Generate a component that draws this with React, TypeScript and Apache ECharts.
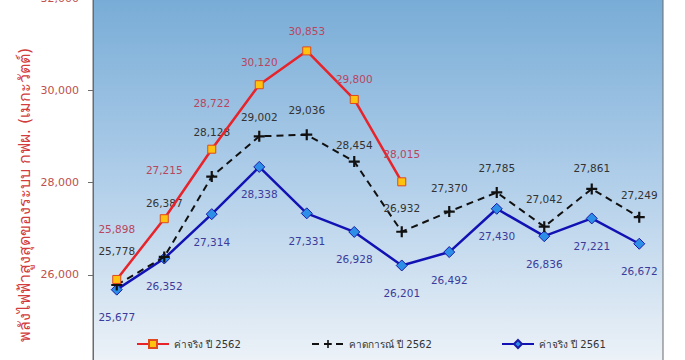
import React, { useEffect, useRef } from "react";
import * as echarts from "echarts";

const months = ["ม.ค.", "ก.พ.", "มี.ค.", "เม.ย.", "พ.ค.", "มิ.ย.", "ก.ค.", "ส.ค.", "ก.ย.", "ต.ค.", "พ.ย.", "ธ.ค."];
const actual2562 = [25898, 27215, 28722, 30120, 30853, 29800, 28015];
const forecast2562 = [25778, 26387, 28128, 29002, 29036, 28454, 26932, 27370, 27785, 27042, 27861, 27249];
const actual2561 = [25677, 26352, 27314, 28338, 27331, 26928, 26201, 26492, 27430, 26836, 27221, 26672];
const seriesNames = ["ค่าจริง ปี 2562", "คาดการณ์ ปี 2562", "ค่าจริง ปี 2561"];
const yTitle = "พลังไฟฟ้าสูงสุดของระบบ กฟผ. (เมกะวัตต์)";

// extra upward label lift (px) for readability, as placed in the original
const redLift = [35, 34, 31, 8, 5, 5, 13];
const blackLift = [18, 38, 29, 3, 9, 1, 8, 8, 8, 12, 5, 6];

const FONT = "'DejaVu Sans', 'Noto Sans', sans-serif";
const fmt = (v: number) => v.toLocaleString("en-US");
const legendLefts = [131, 306, 496];

export default function App() {
  const ref = useRef<HTMLDivElement>(null);
  useEffect(() => {
    if (!ref.current) return;
    const chart = echarts.init(ref.current, null, { renderer: "svg" });
    chart.setOption({
      animation: false,
      backgroundColor: "#ffffff",
      textStyle: { fontFamily: FONT },
      grid: {
        left: 93,
        top: 8,
        width: 570,
        height: 369,
        containLabel: false,
        outerBoundsMode: "none",
        show: true,
        borderColor: "#6b6b6b",
        borderWidth: 1,
        backgroundColor: new echarts.graphic.LinearGradient(0, 0, 0, 1, [
          { offset: 0, color: "#78acd6" },
          { offset: 0.45, color: "#abcbe8" },
          { offset: 1, color: "#eef3f8" },
        ]),
      },
      graphic: [
        {
          type: "text",
          x: 24,
          y: 205,
          rotation: Math.PI / 2,
          style: {
            text: yTitle,
            fill: "#d23c3c",
            fontSize: 16,
            fontFamily: FONT,
            align: "center",
            verticalAlign: "middle",
          },
        },
      ],
      legend: seriesNames.map((n, i) => ({
        left: legendLefts[i],
        top: 344,
        itemWidth: 32,
        itemHeight: 10,
        textStyle: { color: "#333", fontSize: 10, fontFamily: FONT },
        data: [n],
      })),
      xAxis: {
        type: "category",
        data: months,
        boundaryGap: true,
        axisLine: { show: true, lineStyle: { color: "#6b6b6b" } },
        axisTick: { show: false },
        axisLabel: { show: false },
      },
      yAxis: {
        type: "value",
        min: 24000,
        max: 32000,
        interval: 2000,
        axisLine: { show: true, lineStyle: { color: "#6b6b6b" } },
        axisTick: { show: true, length: 5, lineStyle: { color: "#6b6b6b" } },
        axisLabel: { color: "#c0504d", fontSize: 11, margin: 14, formatter: fmt, showMinLabel: false },
        splitLine: { show: false },
      },
      series: [
        {
          name: seriesNames[0],
          type: "line",
          z: 4,
          data: actual2562.map((v, i) => ({
            value: v,
            label: { offset: [0, -redLift[i]] },
          })),
          symbol: "rect",
          symbolSize: 8,
          itemStyle: { color: "#ffc20e", borderColor: "#e0481e", borderWidth: 1 },
          lineStyle: { color: "#e8232a", width: 2.5 },
          label: {
            show: true,
            position: "top",
            color: "#b9455e",
            fontSize: 10.5,
            formatter: (p: any) => fmt(p.value),
          },
        },
        {
          name: seriesNames[1],
          type: "line",
          z: 3,
          data: forecast2562.map((v, i) => ({
            value: v,
            label: { offset: [0, -blackLift[i]] },
          })),
          symbol: "path://M4,0h2v4h4v2h-4v4h-2v-4h-4v-2h4z",
          symbolSize: 11,
          itemStyle: { color: "#111" },
          lineStyle: { color: "#111", width: 2, type: [7, 5] },
          label: {
            show: true,
            position: "top",
            color: "#333",
            fontSize: 10.5,
            formatter: (p: any) => fmt(p.value),
          },
        },
        {
          name: seriesNames[2],
          type: "line",
          z: 2,
          data: actual2561,
          symbol: "diamond",
          symbolSize: 11,
          itemStyle: { color: "#2d8ee8", borderColor: "#1a1aa8", borderWidth: 1 },
          lineStyle: { color: "#1212b4", width: 2.5 },
          label: {
            show: true,
            position: "bottom",
            distance: 16,
            color: "#3b3b9b",
            fontSize: 10.5,
            formatter: (p: any) => fmt(p.value),
          },
        },
      ],
    });
    return () => chart.dispose();
  }, []);
  return (
    <div style={{ position: "absolute", left: 0, top: 0, width: 685, height: 360, overflow: "hidden" }}>
      <div
        ref={ref}
        style={{ position: "absolute", left: 0, top: -10, width: 685, height: 420 }}
      />
    </div>
  );
}
